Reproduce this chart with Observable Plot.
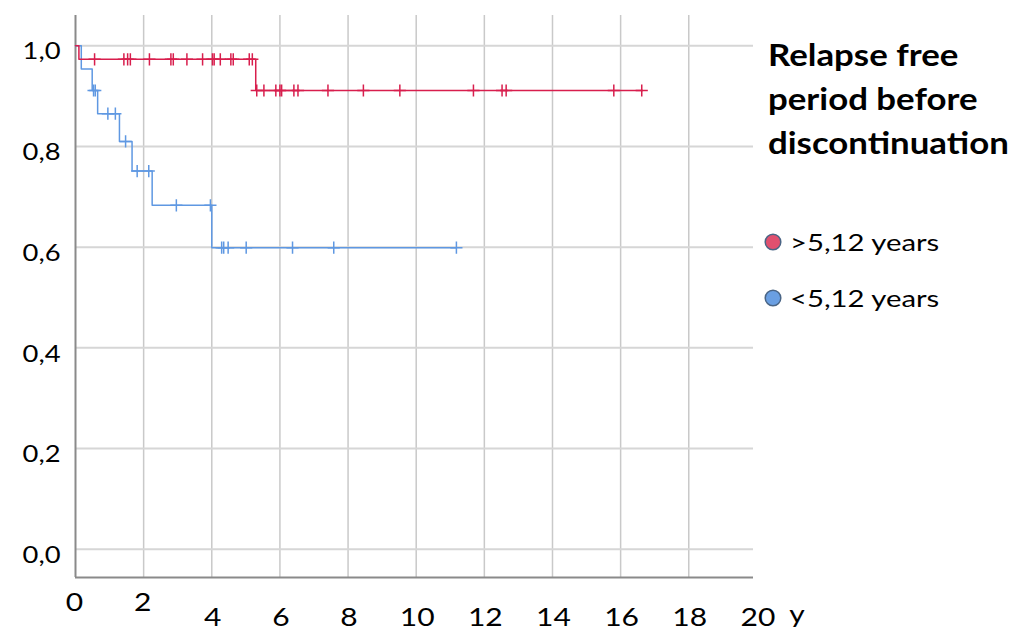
<!DOCTYPE html>
<html>
<head>
<meta charset="utf-8">
<script src="https://cdn.jsdelivr.net/npm/d3@7"></script>
<script src="https://cdn.jsdelivr.net/npm/@observablehq/plot@0.6"></script>
<style>
  html, body { margin: 0; padding: 0; background: #fff; }
  #wrap { position: relative; width: 1014px; height: 631px; }
  #legend { position: absolute; left: 0; top: 0; }
</style>
</head>
<body>
<div id="wrap"></div>
<script>
// ---- data (years, survival proportion) ----
const xTicks = [0, 2, 4, 6, 8, 10, 12, 14, 16, 18, 20];
const yTicks = [0, 0.2, 0.4, 0.6, 0.8, 1.0];
const yTickLabels = ["0,0", "0,2", "0,4", "0,6", "0,8", "1,0"];

// >5,12 years (red)
const redStepT = [0, 0.10, 5.29, 16.65];
const redStepS = [1.0, 0.973, 0.911, 0.911];
const redCensorT = [0.56, 1.42, 1.53, 1.61, 2.17, 2.80, 2.87, 3.27, 3.73, 4.02, 4.07, 4.25, 4.56, 4.63, 5.10, 5.19,
                    5.32, 5.53, 5.88, 6.00, 6.05, 6.41, 6.53, 7.41, 8.45, 9.52, 11.68, 12.52, 12.64, 15.80, 16.62];
const redCensorS = [0.973, 0.973, 0.973, 0.973, 0.973, 0.973, 0.973, 0.973, 0.973, 0.973, 0.973, 0.973, 0.973, 0.973, 0.973, 0.973,
                    0.911, 0.911, 0.911, 0.911, 0.911, 0.911, 0.911, 0.911, 0.911, 0.911, 0.911, 0.911, 0.911, 0.911, 0.911];

// <5,12 years (blue)
const blueStepT = [0, 0.17, 0.49, 0.65, 1.29, 1.66, 2.25, 4.00, 11.18];
const blueStepS = [1.0, 0.954, 0.911, 0.865, 0.810, 0.751, 0.683, 0.599, 0.599];
const blueCensorT = [0.53, 0.58, 0.95, 1.17, 1.47, 1.81, 2.15, 2.96, 3.96, 4.29, 4.35, 4.48, 5.01, 6.37, 7.58, 11.18];
const blueCensorS = [0.911, 0.911, 0.865, 0.865, 0.810, 0.751, 0.751, 0.683, 0.683, 0.599, 0.599, 0.599, 0.599, 0.599, 0.599, 0.599];

const legendTitle = ["Relapse free", "period before", "discontinuation"];
const legendLabels = [">5,12 years", "<5,12 years"];

// ---- styles ----
const RED = "#d81e4d";
const BLUE = "#5f98e2";
const yMin = -0.056, yMax = 1.06;
const xGrid = xTicks.filter(t => t > 0 && t < 20);

const chart = Plot.plot({
  width: 1014,
  height: 631,
  marginLeft: 75,
  marginRight: 261,
  marginTop: 15,
  marginBottom: 54,
  x: { domain: [0, 19.9], axis: null },
  y: { domain: [yMin, yMax], axis: null },
  style: { fontFamily: "Lato, sans-serif", background: "#fff", color: "#000" },
  marks: [
    Plot.ruleX(xGrid, { stroke: "#c9c9c9", strokeWidth: 1.5 }),
    Plot.ruleY(yTicks, { stroke: "#d6d6d6", strokeWidth: 2 }),
    Plot.ruleX([0], { stroke: "#8a8a8a", strokeWidth: 2 }),
    Plot.ruleY([yMin], { stroke: "#8a8a8a", strokeWidth: 2 }),
    // y tick labels
    Plot.text(yTicks, { x: 0, y: d => d, text: (d, i) => yTickLabels[i], textAnchor: "end", dx: -15, dy: 6, fontSize: 24, fill: "#000", className: "ylab" }),
    // x tick labels (first two sit higher, as in the original)
    Plot.text(xTicks.filter(t => t <= 2), { x: d => d, y: yMin, text: d => String(d), dx: -1, dy: 25, fontSize: 25, fill: "#000", className: "xlab" }),
    Plot.text(xTicks.filter(t => t > 2), { x: d => d, y: yMin, text: d => String(d), dx: 1, dy: 40, fontSize: 25, fill: "#000", className: "xlab" }),
    Plot.text(["y"], { x: 20, y: yMin, text: d => d, dx: 40, dy: 37, fontSize: 25, fill: "#000", className: "xlab" }),
    // curves
    Plot.line(blueStepT, { x: blueStepT, y: blueStepS, curve: "step-after", stroke: BLUE, strokeWidth: 1.5 }),
    Plot.dot(blueCensorT, { x: blueCensorT, y: blueCensorS, symbol: "plus", r: 4, stroke: BLUE, strokeWidth: 1.5 }),
    Plot.line(redStepT, { x: redStepT, y: redStepS, curve: "step-after", stroke: RED, strokeWidth: 1.5 }),
    Plot.dot(redCensorT, { x: redCensorT, y: redCensorS, symbol: "plus", r: 4, stroke: RED, strokeWidth: 1.5 })
  ]
});
document.getElementById("wrap").appendChild(chart);

// the original's glyphs are a little wider than Lato: stretch text horizontally
function widen(el, f) {
  const w = el.getComputedTextLength();
  if (w > 0) {
    el.setAttribute("textLength", (w * f).toFixed(2));
    el.setAttribute("lengthAdjust", "spacingAndGlyphs");
  }
}
chart.querySelectorAll(".ylab text").forEach(t => widen(t, 1.14));
chart.querySelectorAll(".xlab text").forEach(t => widen(t, 1.2));

// ---- legend (right side) ----
const ns = "http://www.w3.org/2000/svg";
const lg = document.createElementNS(ns, "svg");
lg.setAttribute("id", "legend");
lg.setAttribute("width", 1014);
lg.setAttribute("height", 631);
lg.style.pointerEvents = "none";
document.getElementById("wrap").appendChild(lg);
legendTitle.forEach((line, i) => {
  const t = document.createElementNS(ns, "text");
  t.setAttribute("x", 768);
  t.setAttribute("y", 66 + i * 44);
  t.setAttribute("font-family", "Lato, sans-serif");
  t.setAttribute("font-weight", "bold");
  t.setAttribute("font-size", 30);
  t.setAttribute("fill", "#000");
  t.textContent = line;
  lg.appendChild(t);
  widen(t, 1.16);
});
const legendColors = ["#e0506f", "#6a9fe2"];
legendLabels.forEach((lab, i) => {
  const cy = 242 + i * 56;
  const c = document.createElementNS(ns, "circle");
  c.setAttribute("cx", 773);
  c.setAttribute("cy", cy);
  c.setAttribute("r", 7.8);
  c.setAttribute("fill", legendColors[i]);
  c.setAttribute("stroke", "#4a6585");
  c.setAttribute("stroke-width", 1.5);
  lg.appendChild(c);
  const t = document.createElementNS(ns, "text");
  t.setAttribute("x", 790);
  t.setAttribute("y", cy + 8.5);
  t.setAttribute("font-family", "Lato, sans-serif");
  t.setAttribute("font-size", 24);
  t.setAttribute("fill", "#000");
  t.textContent = lab;
  lg.appendChild(t);
  widen(t, 1.22);
});
</script>
</body>
</html>
